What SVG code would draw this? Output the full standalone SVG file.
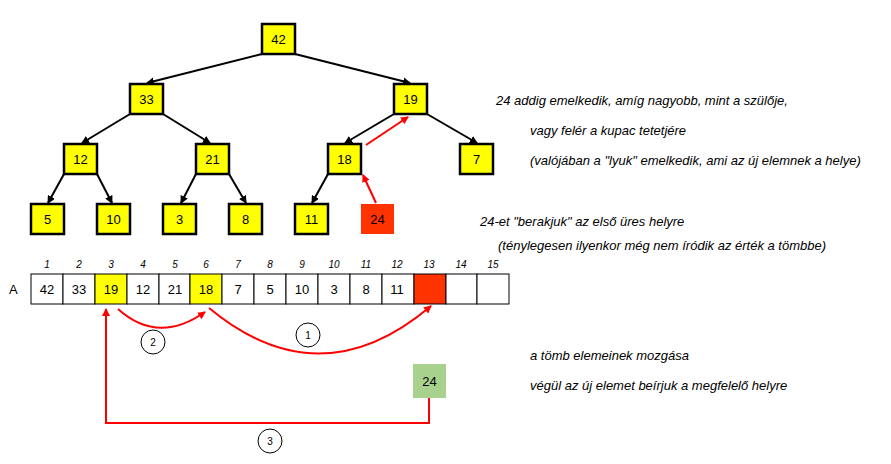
<svg xmlns="http://www.w3.org/2000/svg" width="891" height="464" viewBox="0 0 891 464">
<style>
.n rect{fill:#ffff00;stroke:#000;stroke-width:2.5}
text{font-family:"Liberation Sans",Arial,sans-serif;font-size:13px;fill:#000}
.c{text-anchor:middle}
.i{font-style:italic}
.s{font-size:10px;font-style:italic;text-anchor:middle}
.e{stroke:#000;stroke-width:2;fill:none;marker-end:url(#ab)}
.r{stroke:#f00;stroke-width:2;fill:none;marker-end:url(#ar)}
.cell{fill:#fff;stroke:#000;stroke-width:1}
.circ{fill:#fff;stroke:#000;stroke-width:1}
</style>
<defs>
<marker id="ab" markerWidth="8" markerHeight="8" refX="7" refY="4" orient="auto" markerUnits="userSpaceOnUse"><path d="M0,0L8,4L0,8z" fill="#000"/></marker>
<marker id="ar" markerWidth="8" markerHeight="8" refX="7" refY="4" orient="auto" markerUnits="userSpaceOnUse"><path d="M0,0L8,4L0,8z" fill="#f00"/></marker>
</defs>
<rect width="891" height="464" fill="#fff"/>
<g id="connectors">
<line class="e" x1="262" y1="54" x2="147" y2="83"/>
<line class="e" x1="295" y1="54" x2="410" y2="83"/>
<line class="e" x1="130" y1="114" x2="82" y2="143"/>
<line class="e" x1="163" y1="114" x2="210" y2="143"/>
<line class="e" x1="394" y1="114" x2="345" y2="143"/>
<line class="e" x1="427" y1="114" x2="477" y2="143"/>
<line class="e" x1="64" y1="174" x2="48" y2="203"/>
<line class="e" x1="97" y1="174" x2="112" y2="203"/>
<line class="e" x1="196" y1="174" x2="181" y2="203"/>
<line class="e" x1="229" y1="174" x2="246" y2="203"/>
<line class="e" x1="328" y1="174" x2="312" y2="203"/>
<line class="r" x1="366" y1="145" x2="408" y2="117"/>
<line class="r" x1="376" y1="203" x2="363" y2="175"/>
<path class="r" d="M118,309 Q158,345 205,312"/>
<path class="r" d="M209,308 Q320,400 431,306"/>
<path class="r" d="M429,398 V423 H106 V309" marker-end="url(#ar)"/>
</g>
<g id="n42" class="n"><rect x="262" y="24" width="33" height="30"/><text class="c" x="278.5" y="44">42</text></g>
<g id="n33" class="n"><rect x="130" y="84" width="33" height="30"/><text class="c" x="146.5" y="104">33</text></g>
<g id="n19" class="n"><rect x="394" y="84" width="33" height="30"/><text class="c" x="410.5" y="104">19</text></g>
<g id="n12" class="n"><rect x="64" y="144" width="33" height="30"/><text class="c" x="80.5" y="164">12</text></g>
<g id="n21" class="n"><rect x="196" y="144" width="33" height="30"/><text class="c" x="212.5" y="164">21</text></g>
<g id="n18" class="n"><rect x="328" y="144" width="33" height="30"/><text class="c" x="344.5" y="164">18</text></g>
<g id="n7" class="n"><rect x="460" y="144" width="33" height="30"/><text class="c" x="476.5" y="164">7</text></g>
<g id="n5" class="n"><rect x="31" y="204" width="33" height="30"/><text class="c" x="47.5" y="224">5</text></g>
<g id="n10" class="n"><rect x="97" y="204" width="33" height="30"/><text class="c" x="113.5" y="224">10</text></g>
<g id="n3" class="n"><rect x="163" y="204" width="33" height="30"/><text class="c" x="179.5" y="224">3</text></g>
<g id="n8" class="n"><rect x="229" y="204" width="33" height="30"/><text class="c" x="245.5" y="224">8</text></g>
<g id="n11" class="n"><rect x="295" y="204" width="33" height="30"/><text class="c" x="311.5" y="224">11</text></g>
<g id="n24"><rect x="361" y="204" width="33" height="30" fill="#ff3300"/><text class="c" x="377.5" y="224">24</text></g>
<g id="array">
<text x="9" y="294">A</text>
<g class="s">
<text class="s" x="47" y="268">1</text><text class="s" x="79" y="268">2</text><text class="s" x="111" y="268">3</text><text class="s" x="143" y="268">4</text><text class="s" x="175" y="268">5</text><text class="s" x="206" y="268">6</text><text class="s" x="238" y="268">7</text><text class="s" x="270" y="268">8</text><text class="s" x="302" y="268">9</text><text class="s" x="334" y="268">10</text><text class="s" x="366" y="268">11</text><text class="s" x="397" y="268">12</text><text class="s" x="429" y="268">13</text><text class="s" x="461" y="268">14</text><text class="s" x="493" y="268">15</text>
</g>
<rect class="cell" x="31" y="274" width="32" height="30"/><text class="c" x="47" y="294">42</text>
<rect class="cell" x="63" y="274" width="32" height="30"/><text class="c" x="79" y="294">33</text>
<rect class="cell" x="95" y="274" width="32" height="30" fill="#ffff00" style="fill:#ffff00"/><text class="c" x="111" y="294">19</text>
<rect class="cell" x="127" y="274" width="32" height="30"/><text class="c" x="143" y="294">12</text>
<rect class="cell" x="159" y="274" width="31" height="30"/><text class="c" x="175" y="294">21</text>
<rect class="cell" x="190" y="274" width="32" height="30" style="fill:#ffff00"/><text class="c" x="206" y="294">18</text>
<rect class="cell" x="222" y="274" width="32" height="30"/><text class="c" x="238" y="294">7</text>
<rect class="cell" x="254" y="274" width="32" height="30"/><text class="c" x="270" y="294">5</text>
<rect class="cell" x="286" y="274" width="32" height="30"/><text class="c" x="302" y="294">10</text>
<rect class="cell" x="318" y="274" width="32" height="30"/><text class="c" x="334" y="294">3</text>
<rect class="cell" x="350" y="274" width="32" height="30"/><text class="c" x="366" y="294">8</text>
<rect class="cell" x="382" y="274" width="32" height="30"/><text class="c" x="397" y="294">11</text>
<rect class="cell" x="414" y="274" width="32" height="30" style="fill:#ff3300"/>
<rect class="cell" x="446" y="274" width="31" height="30"/>
<rect class="cell" x="477" y="274" width="32" height="30"/>
</g>
<g id="new24"><rect x="413" y="364" width="33" height="34" fill="#a9d18e"/><text class="c" x="429.5" y="386">24</text></g>
<g id="c1"><circle class="circ" cx="308" cy="335" r="12"/><text class="c" x="308" y="339" style="font-size:10px">1</text></g>
<g id="c2"><circle class="circ" cx="153" cy="342" r="12"/><text class="c" x="153" y="346" style="font-size:10px">2</text></g>
<g id="c3"><circle class="circ" cx="270" cy="441" r="12"/><text class="c" x="270" y="445" style="font-size:10px">3</text></g>
<g id="notes" class="i">
<text class="i" x="496" y="105">24 addig emelkedik, amíg nagyobb, mint a szülője,</text>
<text class="i" x="530" y="135">vagy felér a kupac tetetjére</text>
<text class="i" x="530" y="165">(valójában a "lyuk" emelkedik, ami az új elemnek a helye)</text>
<text class="i" x="480" y="226">24-et "berakjuk" az első üres helyre</text>
<text class="i" x="498" y="250">(ténylegesen ilyenkor még nem íródik az érték a tömbbe)</text>
<text class="i" x="530" y="360">a tömb elemeinek mozgása</text>
<text class="i" x="530" y="390">végül az új elemet beírjuk a megfelelő helyre</text>
</g>
</svg>
